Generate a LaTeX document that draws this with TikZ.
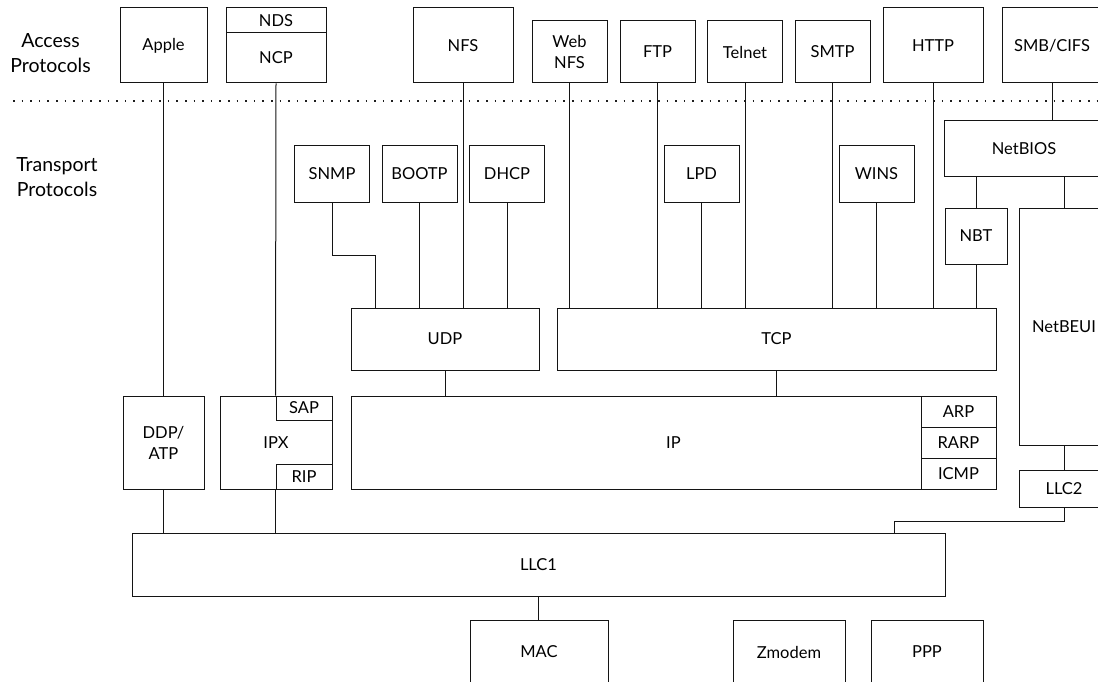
\documentclass[tikz,border=0pt]{standalone}
\usepackage{fontspec}
\setmainfont{Lato}
\usepackage{xcolor}
\definecolor{edge}{RGB}{20,20,20}
\definecolor{dots}{RGB}{30,30,30}

\tikzset{
  blk/.style={draw=edge, rectangle, inner sep=0pt, line width=1pt,
              font=\fontsize{16.5}{21}\selectfont, align=center},
  lnk/.style={draw=edge, line width=1pt},
  layer/.style={font=\fontsize{19.5}{25}\selectfont, align=center},
  sep/.style={draw=dots, line width=1.6pt, dash pattern=on 1.6pt off 7pt}
}

\begin{document}
\begin{tikzpicture}[x=1pt, y=-1pt]
  \useasboundingbox (0,0) rectangle (1098,682);
  \clip (0,0) rectangle (1098,682);

  \node[layer] (acc) at (50.5,53) {Access\\Protocols};
  \node[layer] (trn) at (57,177) {Transport\\Protocols};
  \draw[sep] (13,101) -- (1098,101);

  % access row
  \node[blk, minimum width=87, minimum height=75] (apple) at (163.5,45.5) {Apple};
  \node[blk, minimum width=100, minimum height=25] (nds) at (276,20.5) {NDS};
  \node[blk, minimum width=100, minimum height=50] (ncp) at (276,58) {NCP};
  \node[blk, minimum width=100, minimum height=75] (nfs) at (463,45.5) {NFS};
  \node[blk, minimum width=75, minimum height=62] (webnfs) at (569.5,52) {Web\\NFS};
  \node[blk, minimum width=75, minimum height=62] (ftp) at (657.5,52) {FTP};
  \node[blk, minimum width=75, minimum height=62] (telnet) at (745,52) {Telnet};
  \node[blk, minimum width=75, minimum height=62] (smtp) at (832.5,52) {SMTP};
  \node[blk, minimum width=100, minimum height=75] (http) at (933,45.5) {HTTP};
  \node[blk, minimum width=100, minimum height=75] (smb) at (1052,45.5) {SMB/CIFS};

  % transport row
  \node[blk, minimum width=75, minimum height=56] (snmp) at (332,174) {SNMP};
  \node[blk, minimum width=75, minimum height=56] (bootp) at (419.5,174) {BOOTP};
  \node[blk, minimum width=75, minimum height=56] (dhcp) at (507,174) {DHCP};
  \node[blk, minimum width=75, minimum height=56] (lpd) at (701.5,174) {LPD};
  \node[blk, minimum width=75, minimum height=56] (wins) at (876.5,174) {WINS};
  \node[blk, minimum width=160, minimum height=56] (netbios) at (1024,149) {NetBIOS};
  \node[blk, minimum width=62, minimum height=56] (nbt) at (976,236) {NBT};
  \node[blk, minimum width=90, minimum height=237] (netbeui) at (1064,326.5) {NetBEUI};

  \node[blk, minimum width=188, minimum height=62] (udp) at (445,339) {UDP};
  \node[blk, minimum width=439, minimum height=62] (tcp) at (776.5,339) {TCP};

  \node[blk, minimum width=645, minimum height=93] (ip) at (673.5,442.5) {IP};
  \node[blk, minimum width=75, minimum height=31] (arp) at (958.5,411.5) {ARP};
  \node[blk, minimum width=75, minimum height=31] (rarp) at (958.5,442.5) {RARP};
  \node[blk, minimum width=75, minimum height=31] (icmp) at (958.5,473.5) {ICMP};

  \node[blk, minimum width=81, minimum height=93] (ddp) at (163.5,442.5) {DDP/\\ATP};
  \node[blk, minimum width=112, minimum height=93] (ipx) at (276,442.5) {IPX};
  \node[blk, minimum width=56, minimum height=24] (sap) at (304,408) {SAP};
  \node[blk, minimum width=56, minimum height=25] (rip) at (304,476.5) {RIP};

  \node[blk, minimum width=90, minimum height=37] (llc2) at (1064,488.5) {LLC2};
  \node[blk, minimum width=813, minimum height=63] (llc1) at (538.5,564.5) {LLC1};

  \node[blk, minimum width=138, minimum height=64] (mac) at (539,652) {MAC};
  \node[blk, minimum width=112, minimum height=64] (zmodem) at (789,652) {Zmodem};
  \node[blk, minimum width=112, minimum height=64] (ppp) at (927,652) {PPP};

  % links
  \draw[lnk] (apple.south) -- (ddp.north);
  \draw[lnk] (ncp.south) -- (sap.north west);
  \draw[lnk] (nfs.south) -- (nfs.south |- udp.north);
  \draw[lnk] (snmp.south) -- ++(0,53) -| ([xshift=25pt]udp.north west);
  \draw[lnk] (bootp.south) -- (bootp.south |- udp.north);
  \draw[lnk] (dhcp.south) -- (dhcp.south |- udp.north);
  \draw[lnk] (webnfs.south) -- (webnfs.south |- tcp.north);
  \draw[lnk] (ftp.south) -- (ftp.south |- tcp.north);
  \draw[lnk] (lpd.south) -- (lpd.south |- tcp.north);
  \draw[lnk] (telnet.south) -- (telnet.south |- tcp.north);
  \draw[lnk] (smtp.south) -- (smtp.south |- tcp.north);
  \draw[lnk] (wins.south) -- (wins.south |- tcp.north);
  \draw[lnk] (http.south) -- (http.south |- tcp.north);
  \draw[lnk] (nbt.south) -- (nbt.south |- tcp.north);
  \draw[lnk] (smb.south) -- (smb.south |- netbios.north);
  \draw[lnk] (netbios.south -| nbt.north) -- (nbt.north);
  \draw[lnk] (netbios.south -| netbeui.north) -- (netbeui.north);
  \draw[lnk] (udp.south) -- (udp.south |- ip.north);
  \draw[lnk] (tcp.south) -- (tcp.south |- ip.north);
  \draw[lnk] (netbeui.south) -- (llc2.north);
  \draw[lnk] (llc2.south) -- ++(0,13.5) -| ([xshift=-51pt]llc1.north east);
  \draw[lnk] (ddp.south) -- (ddp.south |- llc1.north);
  \draw[lnk] (rip.south west) -- (rip.south west |- llc1.north);
  \draw[lnk] (llc1.south) -- (llc1.south |- mac.north);
\end{tikzpicture}
\end{document}
